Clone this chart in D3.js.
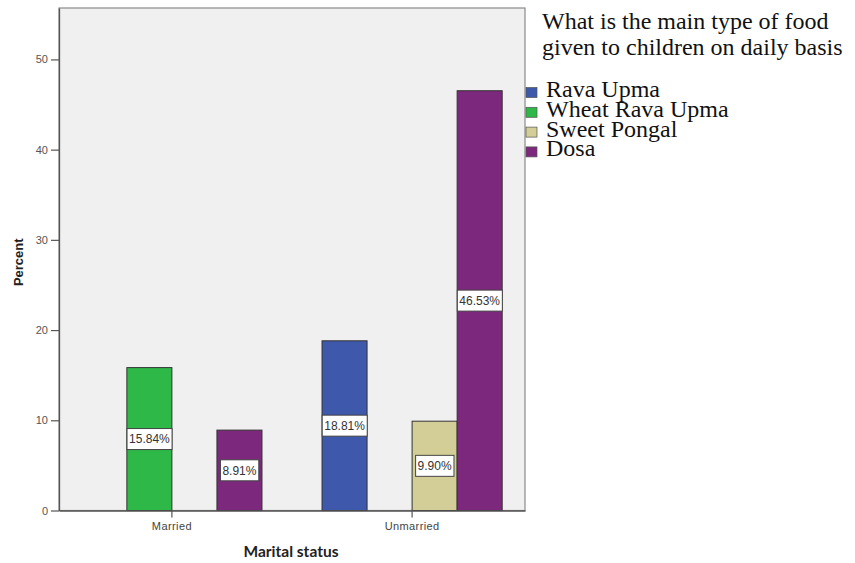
<!DOCTYPE html>
<html><head><meta charset="utf-8">
<script src="https://cdn.jsdelivr.net/npm/d3@7/dist/d3.min.js"></script>
<style>body{margin:0;background:#fff}svg{display:block}</style>
</head><body>
<svg id="c" width="855" height="563"></svg>
<script>
const categories = ["Married", "Unmarried"];
const seriesNames = ["Rava Upma", "Wheat Rava Upma", "Sweet Pongal", "Dosa"];
const ravaUpma = [0, 18.81];
const wheatRavaUpma = [15.84, 0];
const sweetPongal = [0, 9.90];
const dosa = [8.91, 46.53];
const yTicks = [0, 10, 20, 30, 40, 50];
const colors = ["#3E58AC", "#2EB848", "#D3CE97", "#7C287D"];
const legendTitle = ["What is the main type of food", "given to children on daily basis"];
const xTitle = "Marital status";
const yTitle = "Percent";

const seriesVals = [ravaUpma, wheatRavaUpma, sweetPongal, dosa];
const svg = d3.select("#c");
const L = 59, R = 525, T = 8, B = 510.5;

const x = d3.scaleBand().domain(categories).range([L, R]).paddingInner(0.25).paddingOuter(0.095);
const xs = d3.scaleBand().domain(seriesNames).range([0, x.bandwidth()]);
const y = d3.scaleLinear().domain([0, 55.7]).range([B, T]);

svg.append("rect").attr("x", L).attr("y", T).attr("width", R - L).attr("height", B - T)
  .attr("fill", "#F0F0F0").attr("stroke", "#8a8a8a").attr("stroke-width", 1.2);

const data = [];
categories.forEach((c, ci) => seriesNames.forEach((s, si) => {
  const v = seriesVals[si][ci];
  if (v > 0) data.push({c, s, v, color: colors[si]});
}));

svg.append("g").selectAll("rect").data(data).join("rect")
  .attr("x", d => x(d.c) + xs(d.s)).attr("y", d => y(d.v))
  .attr("width", xs.bandwidth()).attr("height", d => y(0) - y(d.v))
  .attr("fill", d => d.color).attr("stroke", "#333").attr("stroke-width", 1);

// y axis
const yAxis = d3.axisLeft(y).tickValues(yTicks).tickSize(8).tickSizeOuter(0).tickPadding(3).tickFormat(d3.format("d"));
const gy = svg.append("g").attr("transform", `translate(${L},0)`).call(yAxis);
gy.select(".domain").attr("stroke", "#555").attr("stroke-width", 1.3);
gy.selectAll(".tick line").attr("stroke", "#555").attr("stroke-width", 1.2);
gy.selectAll(".tick text").attr("fill", "#555").style("font", "11px Arial, 'Liberation Sans', sans-serif");

// x axis
const xAxis = d3.axisBottom(x).tickSize(7).tickSizeOuter(0).tickPadding(5);
const gx = svg.append("g").attr("transform", `translate(0,${B})`).call(xAxis);
gx.select(".domain").attr("stroke", "#555").attr("stroke-width", 1.3);
gx.selectAll(".tick line").attr("stroke", "#555").attr("stroke-width", 1.2);
gx.selectAll(".tick text").attr("fill", "#444").style("font", "11px Arial, 'Liberation Sans', sans-serif").attr("letter-spacing", "0.4");

// bar labels
const lg = svg.append("g").selectAll("g").data(data).join("g")
  .attr("transform", d => `translate(${x(d.c) + xs(d.s) + xs.bandwidth() / 2},${(y(d.v) + y(0)) / 2})`);
lg.append("text").text(d => d3.format(".2f")(d.v) + "%")
  .attr("text-anchor", "middle").attr("dy", "0.36em").attr("fill", "#333")
  .style("font", "12px Arial, 'Liberation Sans', sans-serif");
lg.each(function () {
  const g = d3.select(this);
  const bb = g.select("text").node().getBBox();
  g.insert("rect", "text").attr("x", bb.x - 2).attr("y", -10.5).attr("width", bb.width + 4).attr("height", 21)
    .attr("fill", "#fff").attr("stroke", "#444").attr("stroke-width", 1);
});

// axis titles
svg.append("text").text(yTitle).attr("transform", `translate(23,${(T + B) / 2 + 3}) rotate(-90)`)
  .attr("text-anchor", "middle").attr("fill", "#222")
  .style("font", "bold 13px Arial, 'Liberation Sans', sans-serif");
svg.append("text").text(xTitle).attr("x", 291).attr("y", 557)
  .attr("text-anchor", "middle").attr("fill", "#222")
  .style("font", "bold 15.5px Lato, 'Open Sans', sans-serif");

// legend
const legendFont = "24px 'Liberation Serif', 'Times New Roman', serif";
svg.append("g").selectAll("text").data(legendTitle).join("text")
  .attr("x", 542).attr("y", (d, i) => 29 + i * 26).text(d => d)
  .attr("fill", "#111").style("font", legendFont);
const items = svg.append("g").selectAll("g").data(seriesNames).join("g")
  .attr("transform", (d, i) => `translate(0,${97 + i * 19.8})`);
items.append("rect").attr("x", 526).attr("y", -9.5).attr("width", 11).attr("height", 10)
  .attr("fill", (d, i) => colors[i]).attr("stroke", "#555").attr("stroke-width", 0.7);
items.append("text").attr("x", 546).attr("y", 0).text(d => d)
  .attr("fill", "#111").style("font", legendFont);
</script>
</body></html>
